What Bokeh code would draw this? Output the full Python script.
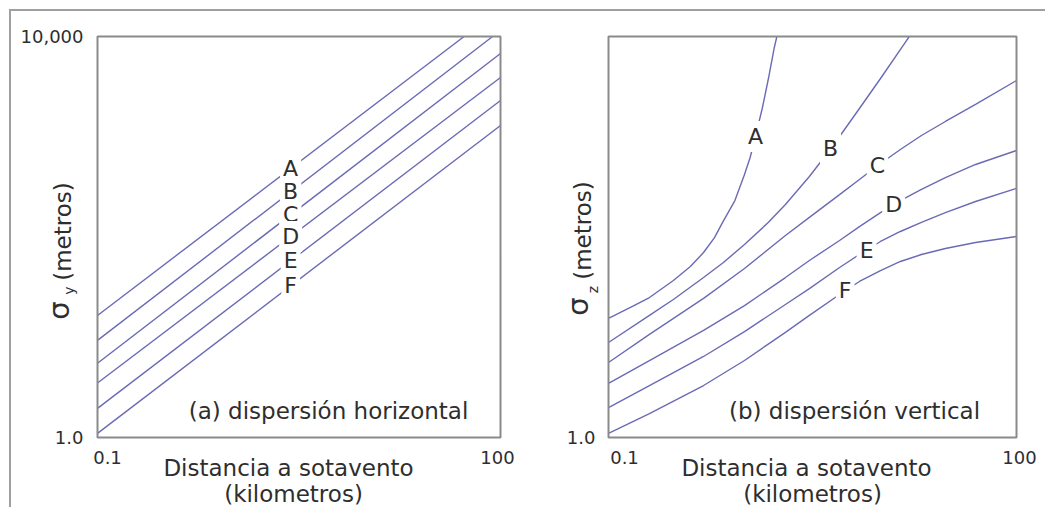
import numpy as np
from bokeh.plotting import figure
from bokeh.models import Label, Range1d, BoxAnnotation
from bokeh.layouts import row
from bokeh.embed import file_html
from bokeh.resources import INLINE

# ---------------- data ----------------
classes = ["A", "B", "C", "D", "E", "F"]

# (a) horizontal dispersion sigma_y (m): straight lines in log-log, values at 0.1 km and 100 km
sy_x = [0.1, 100.0]
sy_A = [16.5, 18900.0]
sy_B = [9.3, 11500.0]
sy_C = [5.5, 6760.0]
sy_D = [3.5, 3900.0]
sy_E = [1.95, 2300.0]
sy_F = [1.1, 1295.0]

# (b) vertical dispersion sigma_z (m)
sz_A_x = [0.1, 0.15, 0.2, 0.3, 0.4, 0.5, 0.6, 0.7, 0.85, 1.0, 1.1, 1.2, 1.35, 1.5, 1.65, 1.75]
sz_A = [15.4, 20.3, 24.9, 36.8, 50.8, 70.0, 98.0, 145.0, 231.0, 420.0, 621.0, 984.0, 1914.0, 3810.0, 7590.0, 10700.0]
sz_B_x = [0.1, 0.2, 0.3, 0.5, 0.7, 1.0, 1.5, 2.0, 3.0, 4.0, 5.0, 7.0, 10.0, 15.0, 20.0]
sz_B = [8.87, 16.5, 23.8, 39.4, 55.7, 84.2, 140.0, 211.0, 401.0, 665.0, 1006.0, 1914.0, 3810.0, 8510.0, 15100.0]
sz_x = [0.1, 0.2, 0.5, 1.0, 2.0, 3.0, 5.0, 7.0, 10.0, 14.0, 20.0, 30.0, 50.0, 100.0]
sz_C = [5.6, 10.7, 24.4, 48.5, 103.5, 157.0, 265.0, 375.0, 541.0, 746.0, 1029.0, 1420.0, 2100.0, 3640.0]
sz_D = [3.46, 5.86, 11.7, 20.7, 39.4, 58.3, 92.3, 127.0, 175.0, 231.0, 298.0, 392.0, 529.0, 729.0]
sz_E = [1.99, 3.30, 6.43, 11.4, 21.2, 30.6, 49.6, 66.9, 90.2, 113.5, 140.0, 175.0, 226.0, 305.0]
sz_F = [1.10, 1.73, 3.30, 5.86, 11.2, 16.5, 26.7, 36.0, 46.3, 57.0, 66.9, 76.8, 88.1, 101.0]

# label positions along the curves (km)
label_x_left = [2.74, 2.74, 2.74, 2.74, 2.74, 2.74]
label_x_right = [1.205, 4.29, 9.5, 12.5, 7.9, 5.5]

x_ticks = [0.1, 100.0]
x_tick_labels = ["0.1", "100"]
y_ticks_left = [1.0, 10000.0]
y_tick_labels_left = ["1.0", "10,000"]
y_ticks_right = [1.0]
y_tick_labels_right = ["1.0"]

# ---------------- style / layout ----------------
FONT = "DejaVu Sans"
TXT = "#2e2e2e"
LINE = "#6a6ab6"
FRAME = "#8a8a8a"
BIG = "23px"
LET = "22px"
TICK = "18px"
SIG = "29px"
H = 496                       # figure height (canvas = plotting frame)
TOP, BOT = 25, 426            # box top / bottom inside canvas (px from canvas top)

X_MIN, X_MAX = 0.1, 100.0
Y_MIN, Y_MAX = 1.0, 10000.0


def log_range(lo, hi, p_lo, p_hi, size):
    """data range for a canvas of `size` px whose box lo..hi spans pixels p_lo..p_hi"""
    per = (p_hi - p_lo) / (np.log10(hi) - np.log10(lo))
    return (10 ** (np.log10(lo) - p_lo / per), 10 ** (np.log10(hi) + (size - p_hi) / per))


def interp_loglog(xq, xs, ys):
    return float(10 ** np.interp(np.log10(xq), np.log10(xs), np.log10(ys)))


def clip_top(xs, ys, ytop=Y_MAX):
    ox, oy = [], []
    for i, (x, y) in enumerate(zip(xs, ys)):
        if y <= ytop:
            ox.append(x)
            oy.append(y)
        else:
            lx0, ly0 = np.log10(xs[i - 1]), np.log10(ys[i - 1])
            lx1, ly1 = np.log10(x), np.log10(y)
            t = (np.log10(ytop) - ly0) / (ly1 - ly0)
            ox.append(10 ** (lx0 + t * (lx1 - lx0)))
            oy.append(ytop)
            break
    return ox, oy


def make_panel(width, box_left, box_right):
    xr = log_range(X_MIN, X_MAX, box_left, box_right, width)
    yr = log_range(Y_MIN, Y_MAX, H - BOT, H - TOP, H)
    p = figure(width=width, height=H, x_axis_type="log", y_axis_type="log",
               x_range=Range1d(*xr), y_range=Range1d(*yr),
               x_axis_location=None, y_axis_location=None,
               output_backend="svg", toolbar_location=None,
               min_border=0, min_border_left=0, min_border_right=0,
               min_border_top=0, min_border_bottom=0)
    p.grid.visible = False
    p.outline_line_color = None
    p.background_fill_color = "white"
    p.border_fill_color = "white"
    return p


def lab(p, x, y, text, size=BIG, angle=0.0, xu="screen", yu="screen", align="center",
        xo=0, bg=None):
    kw = dict(x=x, y=y, x_units=xu, y_units=yu, text=text, text_font=FONT,
              text_font_size=size, text_color=TXT, text_align=align,
              text_baseline="middle", angle=angle, x_offset=xo)
    if bg:
        kw.update(background_fill_color=bg, padding=3)
    p.add_layout(Label(**kw))


def frame_box(p):
    p.add_layout(BoxAnnotation(left=X_MIN, right=X_MAX, bottom=Y_MIN, top=Y_MAX,
                               fill_alpha=0, line_color=FRAME, line_width=2, line_alpha=1))


# ---------------- panel (a) ----------------
W1 = 508
p1 = make_panel(W1, 86, 489)
left_series = [sy_A, sy_B, sy_C, sy_D, sy_E, sy_F]
for ys in left_series:
    cx, cy = clip_top(sy_x, ys)
    p1.line(cx, cy, line_color=LINE, line_width=1.4)
frame_box(p1)
for c, ys, lx in zip(classes, left_series, label_x_left):
    lab(p1, lx, interp_loglog(lx, sy_x, ys), c, size=LET, xu="data", yu="data", bg="white")
for t, s in zip(y_ticks_left, y_tick_labels_left):
    lab(p1, 72, t, s, size=TICK, yu="data", align="right")
for t, s, o in zip(x_ticks, x_tick_labels, [10, -3]):
    lab(p1, t, 50, s, size=TICK, xu="data", xo=o)
lab(p1, 317, 97, "(a) dispersión horizontal")
lab(p1, 277, 40, "Distancia a sotavento")
lab(p1, 282, 14, "(kilometros)")
lab(p1, 47, 197, "σ", size=SIG, angle=np.pi / 2)
lab(p1, 57, 217, "y", size="14px", angle=np.pi / 2)
lab(p1, 51, 276, "(metros)", angle=np.pi / 2)

# ---------------- panel (b) ----------------
W2 = 526
p2 = make_panel(W2, 89, 497)
right_x = [sz_A_x, sz_B_x, sz_x, sz_x, sz_x, sz_x]
right_y = [sz_A, sz_B, sz_C, sz_D, sz_E, sz_F]
for xs, ys in zip(right_x, right_y):
    cx, cy = clip_top(xs, ys)
    p2.line(cx, cy, line_color=LINE, line_width=1.4)
frame_box(p2)
for c, xs, ys, lx in zip(classes, right_x, right_y, label_x_right):
    lab(p2, lx, interp_loglog(lx, xs, ys), c, size=LET, xu="data", yu="data", bg="white")
for t, s in zip(y_ticks_right, y_tick_labels_right):
    lab(p2, 76, t, s, size=TICK, yu="data", align="right")
for t, s, o in zip(x_ticks, x_tick_labels, [16, 3]):
    lab(p2, t, 50, s, size=TICK, xu="data", xo=o)
lab(p2, 335, 97, "(b) dispersión vertical")
lab(p2, 287, 40, "Distancia a sotavento")
lab(p2, 293, 14, "(kilometros)")
lab(p2, 58, 201, "σ", size=SIG, angle=np.pi / 2)
lab(p2, 73, 218, "z", size="14px", angle=np.pi / 2)
lab(p2, 63, 277, "(metros)", angle=np.pi / 2)

layout = row(p1, p2, margin=(9, 0, 0, 9),
             styles={"border-top": "2px solid #a0a0a0", "border-left": "2px solid #a0a0a0"})

open("out.html", "w").write(file_html(layout, INLINE))
